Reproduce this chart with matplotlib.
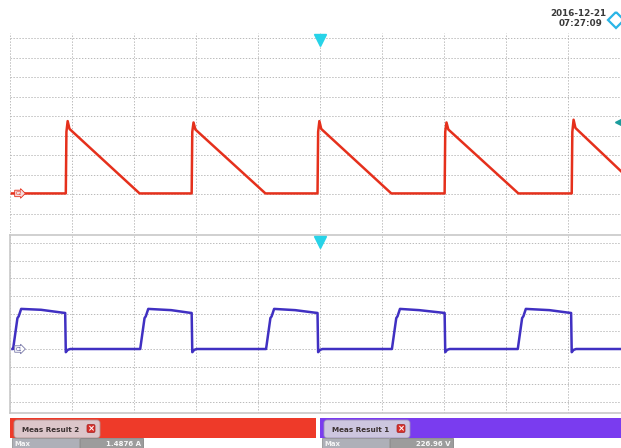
import matplotlib
matplotlib.use("Agg")
import matplotlib.pyplot as plt
from matplotlib.patches import Rectangle, FancyBboxPatch, Polygon

# ---------------- data (time in divisions, trigger at 0; amplitude in divisions) ----------
red_t = [-4.97, -4.10, -4.09, -4.07, -4.04, -2.91,
         -2.07, -2.06, -2.04, -2.01, -0.88,
         -0.04, -0.03, -0.01, 0.02, 1.15,
         2.01, 2.02, 2.04, 2.07, 3.20,
         4.06, 4.07, 4.09, 4.12, 4.90]
red_v = [-2.95, -2.95, 0.20, 0.75, 0.35, -2.95,
         -2.95, 0.20, 0.68, 0.32, -2.95,
         -2.95, 0.20, 0.75, 0.35, -2.95,
         -2.95, 0.20, 0.68, 0.32, -2.95,
         -2.95, 0.20, 0.82, 0.40, -1.95]

blue_t = [-4.96, -4.95, -4.88, -4.86, -4.82, -4.50, -4.16, -4.11, -4.10, -4.07, -4.03,
          -2.90, -2.83, -2.81, -2.77, -2.40, -2.12, -2.07, -2.06, -2.03, -1.99,
          -0.87, -0.80, -0.78, -0.74, -0.40, -0.09, -0.04, -0.03, 0.00, 0.04,
          1.16, 1.23, 1.25, 1.29, 1.60, 1.96, 2.01, 2.02, 2.05, 2.09,
          3.19, 3.26, 3.28, 3.32, 3.70, 4.00, 4.05, 4.06, 4.09, 4.13, 4.90]
blue_v = [-1.00, -1.00, 0.75, 0.85, 1.27, 1.22, 1.06, 1.04, -1.18, -1.05, -1.00,
          -1.00, 0.75, 0.85, 1.27, 1.20, 1.06, 1.04, -1.18, -1.05, -1.00,
          -1.00, 0.75, 0.85, 1.27, 1.20, 1.06, 1.04, -1.18, -1.05, -1.00,
          -1.00, 0.75, 0.85, 1.27, 1.20, 1.06, 1.04, -1.18, -1.05, -1.00,
          -1.00, 0.75, 0.85, 1.27, 1.20, 1.06, 1.04, -1.18, -1.05, -1.00, -1.00]

meas_labels = ["Meas Result 2", "Meas Result 1"]
meas_names = ["Max", "Max"]
meas_values = ["1.4876 A", "226.96 V"]
timestamp = ["2016-12-21", "07:27:09"]

red_color = "#e5301c"
blue_color = "#4030c2"
grid_color = "#b4b4b4"

W, H = 621, 448
fig = plt.figure(figsize=(W / 100, H / 100), dpi=100)
fig.patch.set_facecolor("white")


def px_axes(x0, y0, x1, y1):
    return fig.add_axes([x0 / W, 1 - y1 / H, (x1 - x0) / W, (y1 - y0) / H])


def style_grid(ax):
    ax.set_xlim(-5, 5)
    ax.set_xticks(range(-5, 6))
    ax.set_yticks(range(-4, 6))
    ax.tick_params(length=0, labelbottom=False, labelleft=False)
    ax.grid(True, linestyle=(0, (1.5, 1.8)), color=grid_color, linewidth=0.65)
    ax.set_facecolor("none")


# top panel (channel 2, current)
ax1 = px_axes(10, 33, 630, 233)
ax1.set_ylim(-4.974, 5.256)
style_grid(ax1)
for s in ax1.spines.values():
    s.set_visible(False)
ax1.plot(red_t, red_v, color=red_color, lw=1.8, solid_joinstyle="round")
ax1.plot([0], [4.9], marker="v", color="#27d3e8", ms=8, clip_on=False, zorder=5)
ax1.plot([4.83], [0.70], marker="<", color="#1a9c9c", ms=6, clip_on=False, zorder=5)
ax1.text(-4.86, -2.95, "C2", fontsize=3.5, color=red_color, va="center", ha="center",
         bbox=dict(boxstyle="rarrow,pad=0.15", fc="#f6dcdc", ec=red_color, lw=0.6))

# bottom panel (channel 1, voltage)
ax2 = px_axes(10, 235, 630, 413)
ax2.set_ylim(-4.622, 5.453)
style_grid(ax2)
for s in ax2.spines.values():
    s.set_color("#c8c8c8")
    s.set_linewidth(1.2)
ax2.plot(blue_t, blue_v, color=blue_color, lw=1.8, solid_joinstyle="round")
ax2.plot([0], [5.05], marker="v", color="#27d3e8", ms=8, clip_on=False, zorder=5)
ax2.text(-4.86, -1.0, "C1", fontsize=3.5, color="#3a3a8a", va="center", ha="center",
         bbox=dict(boxstyle="rarrow,pad=0.15", fc="white", ec="#7878a8", lw=0.6))

# overlay for UI decorations
ov = fig.add_axes([0, 0, 1, 1])
ov.set_xlim(0, W)
ov.set_ylim(H, 0)
ov.axis("off")

# timestamp + logo
ov.text(606, 14, timestamp[0], ha="right", va="center", fontsize=6.3,
        fontweight="bold", color="#3a3a3a")
ov.text(602, 24, timestamp[1], ha="right", va="center", fontsize=6.3,
        fontweight="bold", color="#3a3a3a")
ov.add_patch(Polygon([[616, 12], [624, 20], [616, 28], [608, 20]], closed=True,
                     fc="none", ec="#2ab5e6", lw=1.6))

# measurement bars
bars = [(10, 316, "#ee3a29", "#dcc6ca", "#aeb0b8", "#9c9c9c"),
        (320, 621, "#7a3cef", "#cdc6df", "#aeb0b8", "#9c9c9c")]
for i, (x0, x1, bar_c, tab_c, box1_c, box2_c) in enumerate(bars):
    ov.add_patch(Rectangle((x0, 418), x1 - x0, 20, fc=bar_c, ec="none"))
    ov.add_patch(FancyBboxPatch((x0 + 4, 420), 86, 18,
                                boxstyle="round,pad=0,rounding_size=3",
                                fc=tab_c, ec="#b09090" if i == 0 else "#9a90b8", lw=0.6))
    ov.text(x0 + 12, 429.5, meas_labels[i], fontsize=5.2, fontweight="bold",
            color="#3a3030", va="center", ha="left")
    ov.add_patch(FancyBboxPatch((x0 + 77, 424.5), 8, 8,
                                boxstyle="round,pad=0,rounding_size=1.5",
                                fc="#d8302a", ec="#a02020", lw=0.5))
    ov.text(x0 + 81, 428.7, "\u00d7", fontsize=6, fontweight="bold",
            color="white", va="center", ha="center")
    ov.add_patch(Rectangle((x0 + 2, 438), 67, 10, fc=box1_c, ec="#888888", lw=0.5))
    ov.add_patch(Rectangle((x0 + 70, 438), 63, 10, fc=box2_c, ec="#777777", lw=0.5))
    ov.text(x0 + 4, 443.5, meas_names[i], fontsize=5, fontweight="bold",
            color="#f4f4f4", va="center", ha="left")
    ov.text(x0 + 131, 443.5, meas_values[i], fontsize=5, fontweight="bold",
            color="#f8f8f8", va="center", ha="right")

fig.savefig("out.png", dpi=100, facecolor="white")
